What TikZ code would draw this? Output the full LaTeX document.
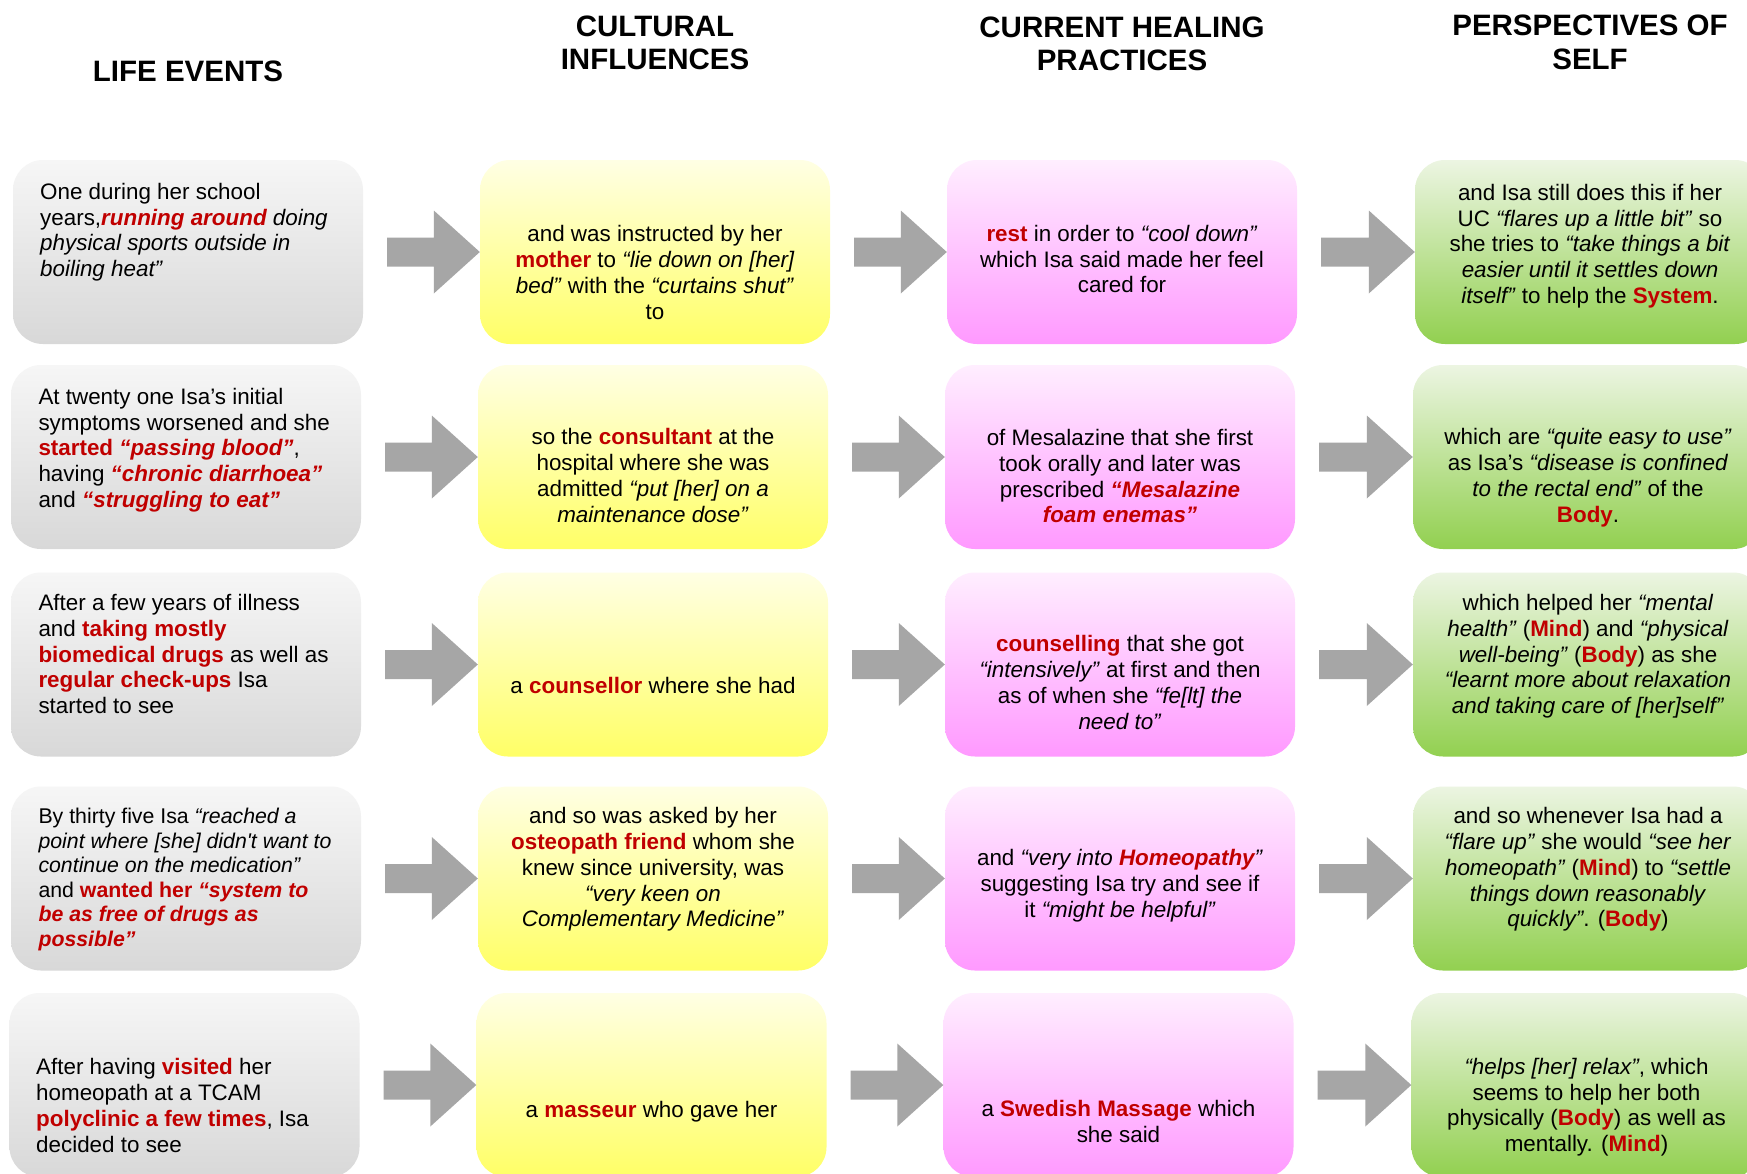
\documentclass[tikz,border=0pt]{standalone}
\usepackage{fontspec}
\setmainfont{Liberation Sans}[Ligatures=TeXOff]
\usetikzlibrary{calc}

\definecolor{hlred}{HTML}{C00000}
\definecolor{arrowfill}{HTML}{A6A6A6}
\definecolor{lifeTop}{HTML}{F6F6F6}
\definecolor{lifeBot}{HTML}{D8D8D8}
\definecolor{cultTop}{HTML}{FFFFE4}
\definecolor{cultBot}{HTML}{FFFF66}
\definecolor{healTop}{HTML}{FFEEFF}
\definecolor{healBot}{HTML}{FF99FF}
\definecolor{selfTop}{HTML}{ECF5E2}
\definecolor{selfBot}{HTML}{92D050}

\newcommand\bodyfont{\fontsize{22.4}{25.8}\selectfont}
\newcommand\smallbodyfont{\fontsize{21.3}{24.5}\selectfont}
\newcommand\headfont{\fontsize{29.5}{33.5}\selectfont\bfseries}
\newcommand\hl[1]{{\color{hlred}\bfseries #1}}
\newcommand\hli[1]{{\color{hlred}\bfseries\itshape #1}}
\newcommand\qt[1]{\textit{#1}}
\newcommand\cell[1]{\strut#1\strut}

% block arrow from the right side of one box to the left side of the next
\newcommand\flowarrow[2]{%
  \fill[arrowfill] ($(#1.east)+(24,-14.5)$) -- ($(#2.west)+(-46,-14.5)$)
    -- ($(#2.west)+(-46,-41.5)$) -- (#2.west) -- ($(#2.west)+(-46,41.5)$)
    -- ($(#2.west)+(-46,14.5)$) -- ($(#1.east)+(24,14.5)$) -- cycle;}

\tikzset{
  cellbox/.style={shape=rectangle, rounded corners=30pt, minimum width=350pt,
    minimum height=184pt, inner sep=0pt, draw=none},
  lifebox/.style={cellbox, top color=lifeTop, bottom color=lifeBot},
  cultbox/.style={cellbox, top color=cultTop, bottom color=cultBot},
  healbox/.style={cellbox, top color=healTop, bottom color=healBot},
  selfbox/.style={cellbox, top color=selfTop, bottom color=selfBot},
  header/.style={font=\headfont, align=center, inner sep=0pt},
  celltext/.style={font=\bodyfont, align=center, inner sep=0pt, yshift=-1.2pt},
  celltextl/.style={font=\bodyfont, align=left, inner sep=0pt, anchor=west, yshift=-1.2pt},
}

\begin{document}
\begin{tikzpicture}[x=1pt, y=-1pt]
\useasboundingbox[fill=white] (0,0) rectangle (1747,1173);

% column headings
\node[header] (h1) at (188,71) {LIFE EVENTS};
\node[header] (h2) at (655,43) {CULTURAL\\INFLUENCES};
\node[header] (h3) at (1122,44) {CURRENT HEALING\\PRACTICES};
\node[header] (h4) at (1590,42.5) {PERSPECTIVES OF\\SELF};

% row 1
\node[lifebox] (b11) at (188,252) {};
\node[cultbox] (b12) at (655,252) {};
\node[healbox] (b13) at (1122,252) {};
\node[selfbox] (b14) at (1590,252) {};
% row 2
\node[lifebox] (b21) at (186,457) {};
\node[cultbox] (b22) at (653,457) {};
\node[healbox] (b23) at (1120,457) {};
\node[selfbox] (b24) at (1588,457) {};
% row 3
\node[lifebox] (b31) at (186,664.5) {};
\node[cultbox] (b32) at (653,664.5) {};
\node[healbox] (b33) at (1120,664.5) {};
\node[selfbox] (b34) at (1588,664.5) {};
% row 4
\node[lifebox] (b41) at (186,878.5) {};
\node[cultbox] (b42) at (653,878.5) {};
\node[healbox] (b43) at (1120,878.5) {};
\node[selfbox] (b44) at (1588,878.5) {};
% row 5
\node[lifebox] (b51) at (184.5,1085) {};
\node[cultbox] (b52) at (651.5,1085) {};
\node[healbox] (b53) at (1118.5,1085) {};
\node[selfbox] (b54) at (1586.5,1085) {};

% arrows
\foreach \r in {1,...,5}{
  \flowarrow{b\r1}{b\r2}
  \flowarrow{b\r2}{b\r3}
  \flowarrow{b\r3}{b\r4}
}

% row 1 texts
\node[celltextl] (t11) at (40,231.6) {\cell{One during her school\\
  years,\hli{running around} \qt{doing}\\
  \qt{physical sports outside in}\\
  \qt{boiling heat”}}};
\node[celltext] (t12) at (655,274) {\cell{and was instructed by her\\
  \hl{mother} to \qt{“lie down on [her]}\\
  \qt{bed”} with the \qt{“curtains shut”}\\
  to}};
\node[celltext] (t13) at (1122,260.7) {\cell{\hl{rest} in order to \qt{“cool down”}\\
  which Isa said made her feel\\
  cared for}};
\node[celltext] (t14) at (1590,245.5) {\cell{and Isa still does this if her\\
  UC \qt{“flares up a little bit”} so\\
  she tries to \qt{“take things a bit}\\
  \qt{easier until it settles down}\\
  \qt{itself”} to help the \hl{System}.}};

% row 2 texts
\node[celltextl] (t21) at (38.3,449.6) {\cell{At twenty one Isa’s initial\\
  symptoms worsened and she\\
  \hl{started} \hli{“passing blood”},\\
  having \hli{“chronic diarrhoea”}\\
  and \hli{“struggling to eat”}}};
\node[celltext] (t22) at (653,477) {\cell{so the \hl{consultant} at the\\
  hospital where she was\\
  admitted \qt{“put [her] on a}\\
  \qt{maintenance dose”}}};
\node[celltext] (t23) at (1120,477.8) {\cell{of Mesalazine that she first\\
  took orally and later was\\
  prescribed \hli{“Mesalazine}\\
  \hli{foam enemas”}}};
\node[celltext] (t24) at (1588,477) {\cell{which are \qt{“quite easy to use”}\\
  as Isa’s \qt{“disease is confined}\\
  \qt{to the rectal end”} of the\\
  \hl{Body}.}};

% row 3 texts
\node[celltextl] (t31) at (38.3,655.8) {\cell{After a few years of illness\\
  and \hl{taking mostly}\\
  \hl{biomedical drugs} as well as\\
  \hl{regular check-ups} Isa\\
  started to see}};
\node[celltext] (t32) at (653,687.5) {\cell{a \hl{counsellor} where she had}};
\node[celltext] (t33) at (1120,684) {\cell{\hl{counselling} that she got\\
  \qt{“intensively”} at first and then\\
  as of when she \qt{“fe[lt] the}\\
  \qt{need to”}}};
\node[celltext] (t34) at (1588,655.8) {\cell{which helped her \qt{“mental}\\
  \qt{health”} (\hl{Mind}) and \qt{“physical}\\
  \qt{well-being”} (\hl{Body}) as she\\
  \qt{“learnt more about relaxation}\\
  \qt{and taking care of [her]self”}}};

% row 4 texts
\node[celltextl, font=\smallbodyfont] (t41) at (38.3,878.8) {\cell{By thirty five Isa \qt{“reached a}\\
  \qt{point where [she] didn't want to}\\
  \qt{continue on the medication”}\\
  and \hl{wanted her} \hli{“system to}\\
  \hli{be as free of drugs as}\\
  \hli{possible”}}};
\node[celltext] (t42) at (653,869) {\cell{and so was asked by her\\
  \hl{osteopath friend} whom she\\
  knew since university, was\\
  \qt{“very keen on}\\
  \qt{Complementary Medicine”}}};
\node[celltext] (t43) at (1120,885) {\cell{and \qt{“very into} \hli{Homeopathy}\qt{”}\\
  suggesting Isa try and see if\\
  it \qt{“might be helpful”}}};
\node[celltext] (t44) at (1588,869) {\cell{and so whenever Isa had a\\
  \qt{“flare up”} she would \qt{“see her}\\
  \qt{homeopath”} (\hl{Mind}) to \qt{“settle}\\
  \qt{things down reasonably}\\
  \qt{quickly”}. (\hl{Body})}};

% row 5 texts
\node[celltextl] (t51) at (36,1107) {\cell{After having \hl{visited} her\\
  homeopath at a TCAM\\
  \hl{polyclinic a few times}, Isa\\
  decided to see}};
\node[celltext] (t52) at (651.5,1110.8) {\cell{a \hl{masseur} who gave her}};
\node[celltext] (t53) at (1118.5,1123) {\cell{a \hl{Swedish Massage} which\\
  she said}};
\node[celltext] (t54) at (1586.5,1106.7) {\cell{\qt{“helps [her] relax”}, which\\
  seems to help her both\\
  physically (\hl{Body}) as well as\\
  mentally. (\hl{Mind})}};
\end{tikzpicture}
\end{document}
